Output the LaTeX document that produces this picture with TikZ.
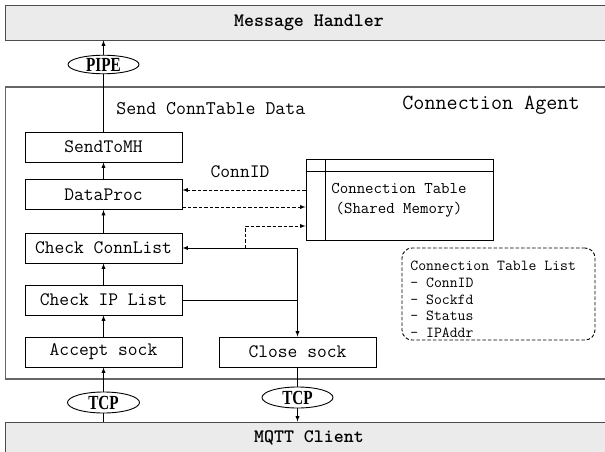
\documentclass[tikz,border=0pt]{standalone}
\usepackage{fontspec}
\setmainfont{Liberation Serif}
\newfontfamily\portfont[FakeStretch=0.76]{Liberation Serif Bold}
\usetikzlibrary{shapes.geometric}

\tikzset{
  block/.style={draw, fill=white, minimum width=157pt, minimum height=30pt, inner sep=0pt,
    font=\ttfamily\fontsize{19}{19}\selectfont},
  port/.style={draw, ellipse, fill=white, inner sep=0pt, minimum width=72pt, minimum height=21pt,
    font=\portfont\fontsize{20}{20}\selectfont},
  layer/.style={draw=black!70, fill=black!8, anchor=west, minimum width=607pt, inner sep=0pt,
    font=\ttfamily\bfseries\fontsize{19}{19}\selectfont},
  shm/.style={->, dash pattern=on 3.5pt off 2pt}
}

\begin{document}
\begin{tikzpicture}[>=latex, x=1pt, y=-1pt, line width=0.9pt]
\useasboundingbox (0,0) rectangle (605,452);

% outer layers
\node[layer, minimum height=35pt] (mh) at (5,22.5) {Message Handler};
\node[layer, minimum height=31pt] (mqtt) at (5,437.5) {MQTT Client};
\node[draw=black!60, line width=1.2pt, anchor=west, minimum width=607pt, minimum height=292pt] (agent) at (5,233) {};
\node[font=\ttfamily\fontsize{21.5}{22}\selectfont] (agentlabel) at (491,105.5) {Connection Agent};

% processing column
\node[block] (send) at (103.5,147) {SendToMH};
\node[block] (proc) at (103.5,194.5) {DataProc};
\node[block] (conn) at (103.5,248) {Check ConnList};
\node[block] (ip) at (103.5,300) {Check IP List};
\node[block] (accept) at (103.5,352) {Accept sock};
\node[block] (close) at (297.5,352) {Close sock};
\node[anchor=base west, inner sep=0pt, font=\ttfamily\fontsize{19.3}{19}\selectfont] (sendlabel) at (116,114) {Send ConnTable Data};

% channels
\node[port, minimum width=71pt, minimum height=17pt] (pipe) at (103.5,64.5) {PIPE};
\node[port] (tcpa) at (103.5,402.5) {TCP};
\node[port, minimum width=71pt] (tcpb) at (297.5,397.5) {TCP};

% shared memory
\node[draw, minimum width=187pt, minimum height=81pt, inner sep=0pt] (table) at (399.5,199.5) {};
\draw (table.north west) ++(20,0) -- ++(0,81);
\draw ([yshift=-13pt]table.north west) -- ([yshift=-13pt]table.north east);
\node[align=center, font=\ttfamily\fontsize{16.4}{20}\selectfont] (tabletext) at (399,200) {Connection Table\\(Shared Memory)};
\node[font=\ttfamily\fontsize{19}{19}\selectfont] (connid) at (240,172) {ConnID};

\node[draw, dash pattern=on 3.5pt off 2pt, rounded corners=10pt, minimum width=193pt, minimum height=92pt] (tablelist) at (498.5,294) {};
\node[anchor=north west, align=left, inner sep=0pt, font=\ttfamily\fontsize{15.3}{16.8}\selectfont] (tablefields) at (410,260.5)
  {Connection Table List\\- ConnID\\- Sockfd\\- Status\\- IPAddr};

% flow
\draw[->] (pipe) -- (pipe |- mh.south);
\draw (send) -- (pipe);
\draw[->] (proc) -- (send);
\draw[->] (conn) -- (proc);
\draw[->] (ip) -- (conn);
\draw[->] (accept) -- (ip);
\draw[->] (tcpa) -- (accept);
\draw (tcpa) -- (tcpa |- mqtt.north);
\draw (close) -- (tcpb);
\draw[->] (tcpb) -- (tcpb |- mqtt.north);

\coordinate (split) at (conn.east -| close);
\draw[->] (split) -- (conn);
\draw[->] (split) -- (close);
\draw (ip.east) -- (ip.east -| split);

% table access
\draw[shm] ([yshift=4.5pt]proc.east -| table.west) -- ([yshift=4.5pt]proc.east);
\draw[shm] ([yshift=-12.5pt]proc.east) -- ([yshift=-12.5pt]proc.east -| table.west);
\coordinate (tap) at (245,248);
\draw[shm] (tap) |- ([yshift=-26.5pt]table.west);

\end{tikzpicture}
\end{document}
